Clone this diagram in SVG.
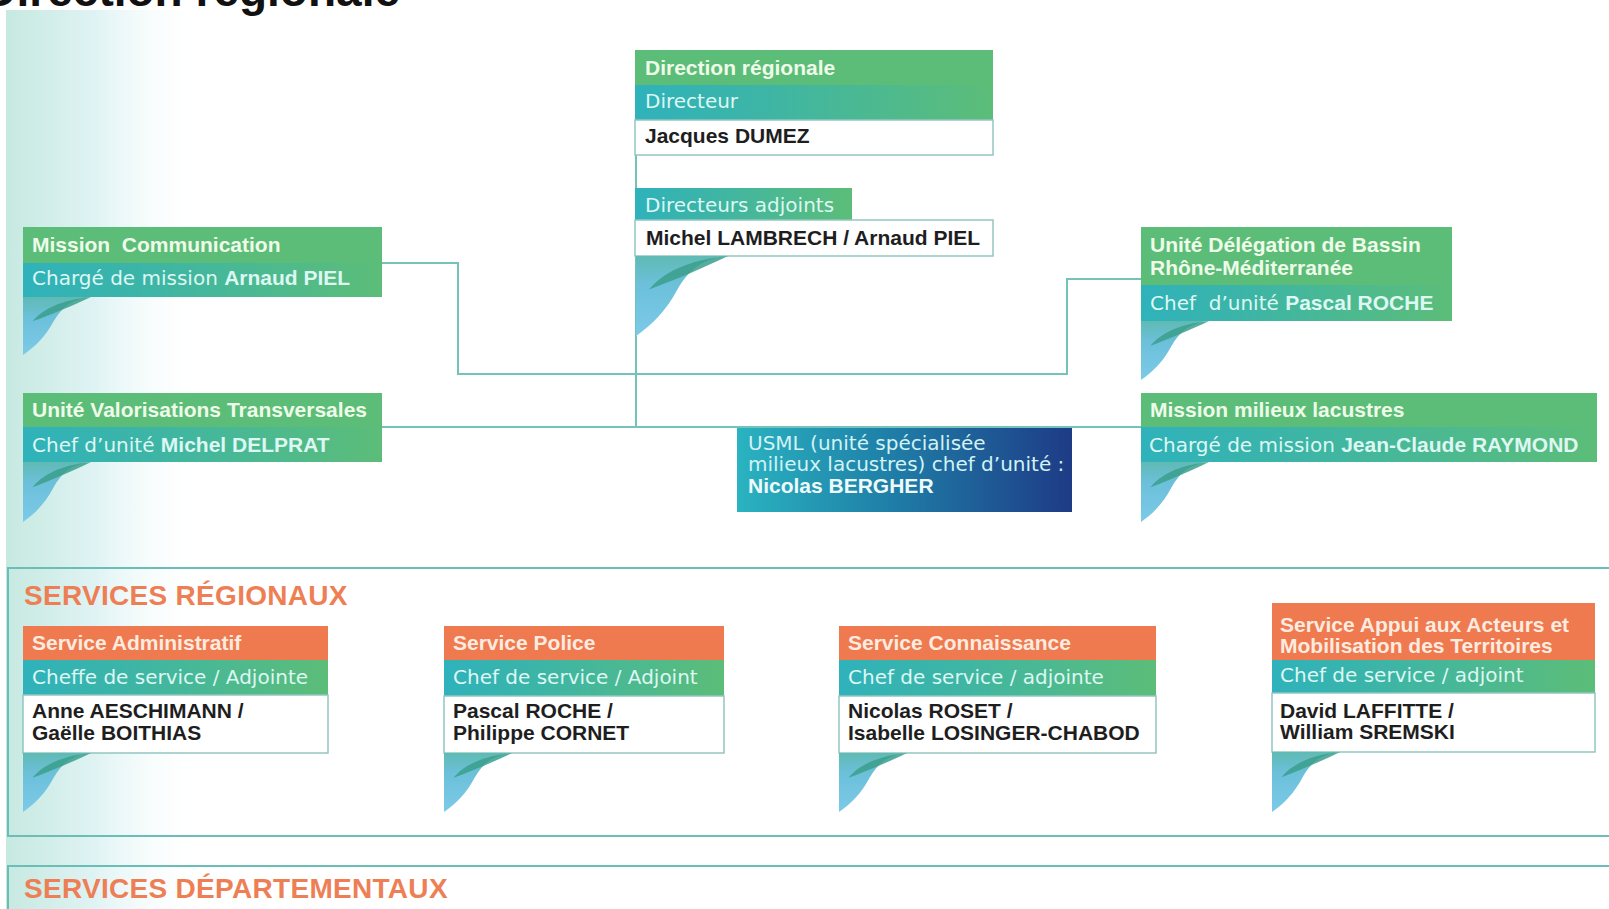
<svg xmlns="http://www.w3.org/2000/svg" xmlns:xlink="http://www.w3.org/1999/xlink" width="1609" height="909" viewBox="0 0 1609 909">
<defs>
<style>
.b{font-family:"Liberation Sans",Arial,sans-serif;font-weight:700;font-size:21px}
.r{font-family:"DejaVu Sans",sans-serif;font-weight:400;font-size:20px}
.lt{fill:#effbe9}
.lc{fill:#ddf7f3}
.lo{fill:#fdebe0}
.dk{fill:#1e1e1e}
.g{fill:#5cbd78}
.o{fill:#ef7a4f}
.t{fill:url(#gTeal)}
.w{fill:#ffffff;stroke:#93c6c1;stroke-width:1.5}
.sec{fill:none;stroke:#6cbdb6;stroke-width:2}
.head{font-family:"Liberation Sans",Arial,sans-serif;font-weight:700;font-size:28px;letter-spacing:0.3px;fill:#ee7f55}
.con{fill:none;stroke:#74c3bb;stroke-width:2}
.pre{white-space:pre}
</style>
<linearGradient id="gTeal" x1="0" y1="0" x2="1" y2="0">
<stop offset="0" stop-color="#2fb2bb"/>
<stop offset="0.35" stop-color="#3db5a6"/>
<stop offset="1" stop-color="#5cbd78"/>
</linearGradient>
<linearGradient id="gUsml" x1="0" y1="0" x2="1" y2="0">
<stop offset="0" stop-color="#2ab3c0"/>
<stop offset="0.45" stop-color="#1f7fa8"/>
<stop offset="1" stop-color="#1e3b86"/>
</linearGradient>
<linearGradient id="gBg" x1="0" y1="0" x2="1" y2="0">
<stop offset="0" stop-color="#c6e9e0"/>
<stop offset="0.45" stop-color="#e0f3f4"/>
<stop offset="1" stop-color="#ffffff" stop-opacity="0"/>
</linearGradient>
<linearGradient id="gLeaf" x1="0" y1="0" x2="0" y2="1">
<stop offset="0" stop-color="#5fbab4"/>
<stop offset="0.35" stop-color="#6cc0da"/>
<stop offset="1" stop-color="#7ccae8"/>
</linearGradient>
<symbol id="leaf" viewBox="0 0 100 100" preserveAspectRatio="none">
<path d="M0,0 H100 C72,3 57,18 45,42 C33,68 18,86 0,100 Z" fill="url(#gLeaf)"/>
<path d="M14,42 C28,22 55,5 100,0 C75,14 42,30 14,42 Z" fill="#3a9f8c" opacity="0.85"/>
</symbol>
</defs>

<rect x="0" y="0" width="1609" height="909" fill="#ffffff"/>
<rect x="6" y="10" width="200" height="899" fill="url(#gBg)"/>

<text x="400" y="6" text-anchor="end" font-family="Liberation Sans, Arial, sans-serif" font-weight="700" font-size="46" fill="#111">Direction régionale</text>

<g id="connectors">
<path class="con" d="M636,155 V427"/>
<path class="con" d="M382,263 H458 V374 H1067 V279 H1141"/>
<path class="con" d="M382,427 H1141"/>
</g>

<g id="sections">
<rect class="sec" x="8" y="568" width="1640" height="268"/>
<rect class="sec" x="8" y="866" width="1640" height="100"/>
<text class="head" x="24" y="605">SERVICES RÉGIONAUX</text>
<text class="head" x="24" y="898">SERVICES DÉPARTEMENTAUX</text>
</g>

<g id="direction">
<rect class="g" x="635" y="50" width="358" height="35"/>
<rect class="t" x="635" y="85" width="358" height="35"/>
<rect class="w" x="635" y="120" width="358" height="35"/>
<text class="b lt" x="645" y="75">Direction régionale</text>
<text class="r lc" x="645" y="108">Directeur</text>
<text class="b dk" x="645" y="143">Jacques DUMEZ</text>
</g>

<g id="adjoints">
<rect class="t" x="635" y="188" width="217" height="32"/>
<rect class="w" x="635" y="220" width="358" height="36"/>
<text class="r lc" x="645" y="212">Directeurs adjoints</text>
<text class="b dk" x="646" y="245">Michel LAMBRECH / Arnaud PIEL</text>
<use xlink:href="#leaf" x="636" y="256" width="92" height="80"/>
</g>

<g id="communication">
<rect class="g" x="23" y="227" width="359" height="36"/>
<rect class="t" x="23" y="263" width="359" height="34"/>
<text class="b lt pre" x="32" y="252">Mission  Communication</text>
<text class="r lc" x="32" y="285">Chargé de mission <tspan class="b">Arnaud PIEL</tspan></text>
<use xlink:href="#leaf" x="23" y="297" width="68" height="58"/>
</g>

<g id="valorisations">
<rect class="g" x="23" y="393" width="359" height="34"/>
<rect class="t" x="23" y="427" width="359" height="35"/>
<text class="b lt" x="32" y="417">Unité Valorisations Transversales</text>
<text class="r lc" x="32" y="452">Chef d’unité <tspan class="b">Michel DELPRAT</tspan></text>
<use xlink:href="#leaf" x="23" y="462" width="68" height="60"/>
</g>

<g id="delegation">
<rect class="g" x="1141" y="227" width="311" height="58"/>
<rect class="t" x="1141" y="285" width="311" height="36"/>
<text class="b lt" x="1150" y="252">Unité Délégation de Bassin</text>
<text class="b lt" x="1150" y="275">Rhône-Méditerranée</text>
<text class="r lc pre" x="1150" y="310">Chef  d’unité <tspan class="b">Pascal ROCHE</tspan></text>
<use xlink:href="#leaf" x="1141" y="321" width="68" height="59"/>
</g>

<g id="lacustres">
<rect class="g" x="1141" y="393" width="456" height="34"/>
<rect class="t" x="1141" y="427" width="456" height="35"/>
<text class="b lt" x="1150" y="417">Mission milieux lacustres</text>
<text class="r lc" x="1149" y="452">Chargé de mission <tspan class="b">Jean-Claude RAYMOND</tspan></text>
<use xlink:href="#leaf" x="1141" y="462" width="68" height="60"/>
</g>

<g id="usml">
<rect x="737" y="428" width="335" height="84" fill="url(#gUsml)"/>
<text class="r" x="748" y="450" fill="#d2f2f4">USML (unité spécialisée</text>
<text class="r" x="748" y="471" fill="#d2f2f4">milieux lacustres) chef d’unité :</text>
<text class="b" x="748" y="493" fill="#eefafa">Nicolas BERGHER</text>
</g>

<g id="administratif">
<rect class="o" x="23" y="626" width="305" height="34"/>
<rect class="t" x="23" y="660" width="305" height="35"/>
<rect class="w" x="23" y="695" width="305" height="58"/>
<text class="b lo" x="32" y="650">Service Administratif</text>
<text class="r lc" x="32" y="684">Cheffe de service / Adjointe</text>
<text class="b dk" x="32" y="718">Anne AESCHIMANN /</text>
<text class="b dk" x="32" y="740">Gaëlle BOITHIAS</text>
<use xlink:href="#leaf" x="23" y="753" width="68" height="59"/>
</g>

<g id="police">
<rect class="o" x="444" y="626" width="280" height="34"/>
<rect class="t" x="444" y="660" width="280" height="36"/>
<rect class="w" x="444" y="696" width="280" height="57"/>
<text class="b lo" x="453" y="650">Service Police</text>
<text class="r lc" x="453" y="684">Chef de service / Adjoint</text>
<text class="b dk" x="453" y="718">Pascal ROCHE /</text>
<text class="b dk" x="453" y="740">Philippe CORNET</text>
<use xlink:href="#leaf" x="444" y="753" width="68" height="59"/>
</g>

<g id="connaissance">
<rect class="o" x="839" y="626" width="317" height="34"/>
<rect class="t" x="839" y="660" width="317" height="36"/>
<rect class="w" x="839" y="696" width="317" height="57"/>
<text class="b lo" x="848" y="650">Service Connaissance</text>
<text class="r lc" x="848" y="684">Chef de service / adjointe</text>
<text class="b dk" x="848" y="718">Nicolas ROSET /</text>
<text class="b dk" x="848" y="740">Isabelle LOSINGER-CHABOD</text>
<use xlink:href="#leaf" x="839" y="753" width="68" height="59"/>
</g>

<g id="appui">
<rect class="o" x="1272" y="603" width="323" height="57"/>
<rect class="t" x="1272" y="660" width="323" height="33"/>
<rect class="w" x="1272" y="693" width="323" height="59"/>
<text class="b lo" x="1280" y="632">Service Appui aux Acteurs et</text>
<text class="b lo" x="1280" y="653">Mobilisation des Territoires</text>
<text class="r lc" x="1280" y="682">Chef de service / adjoint</text>
<text class="b dk" x="1280" y="718">David LAFFITTE /</text>
<text class="b dk" x="1280" y="739">William SREMSKI</text>
<use xlink:href="#leaf" x="1272" y="752" width="68" height="60"/>
</g>
</svg>
